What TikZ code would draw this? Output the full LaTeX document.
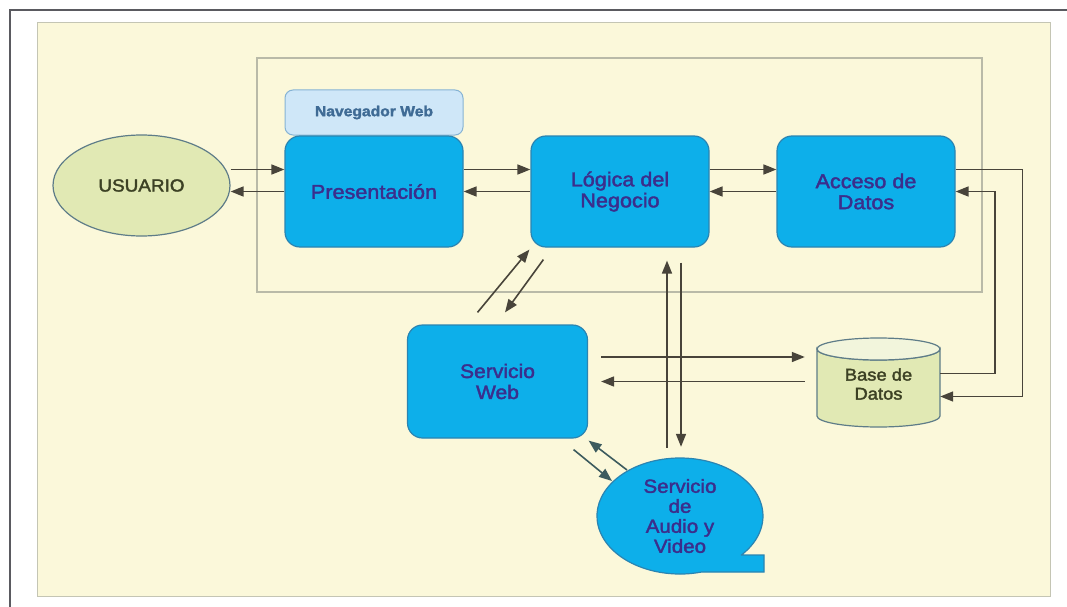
\documentclass[tikz,border=0pt]{standalone}
\usepackage{fontspec}
\setmainfont{Liberation Sans}
\newfontfamily\lblfont[FakeStretch=1.08,FakeBold=2]{Liberation Sans}
\usetikzlibrary{arrows.meta,calc,shapes.geometric}

\definecolor{framegrey}{HTML}{5A5A60}
\definecolor{paper}{HTML}{FBF8DA}
\definecolor{paperline}{HTML}{C4C5B4}
\definecolor{innerline}{HTML}{B9BAA8}
\definecolor{tierblue}{HTML}{0DAFEA}
\definecolor{tierline}{HTML}{2A84B2}
\definecolor{tiertext}{HTML}{3B2E8C}
\definecolor{navfill}{HTML}{CFE7F8}
\definecolor{navline}{HTML}{86B3D4}
\definecolor{navtext}{HTML}{3F6B95}
\definecolor{olivefill}{HTML}{E1E9B4}
\definecolor{olivetop}{HTML}{F2F5DC}
\definecolor{olivetext}{HTML}{3C4124}
\definecolor{rimline}{HTML}{5E7C88}
\definecolor{arrowgrey}{HTML}{48443A}
\definecolor{arrowteal}{HTML}{3C5B5E}

\begin{document}
\begin{tikzpicture}[x=1pt,y=-1pt,
  tier/.style={draw=tierline, line width=1.2pt, fill=tierblue, rounded corners=15pt,
    minimum width=178pt, minimum height=111pt, inner sep=0pt, align=center,
    text=tiertext, font=\lblfont\fontsize{20}{21}\selectfont},
  navbox/.style={draw=navline, line width=1pt, fill=navfill, rounded corners=8pt,
    minimum width=178pt, minimum height=45pt, inner sep=0pt,
    text=navtext, font=\lblfont\bfseries\fontsize{14.5}{16}\selectfont},
  userbox/.style={ellipse, draw=rimline, line width=1.2pt, fill=olivefill,
    minimum width=177pt, minimum height=101pt, inner sep=0pt,
    text=olivetext, font=\lblfont\fontsize{17.5}{19}\selectfont},
  arr/.style={draw=arrowgrey, line width=1.6pt, -{Triangle[length=13pt,width=10pt]}},
  arrt/.style={draw=arrowteal, line width=1.6pt, -{Triangle[length=13pt,width=10pt]}},
]
\useasboundingbox (0,0) rectangle (1067,607);
\fill[white] (0,0) rectangle (1067,607);

% page frame and coloured sheet
\draw[framegrey, line width=1.6pt] (10,607) -- (10,10) -- (1067,10);
\filldraw[fill=paper, draw=paperline, line width=1pt] (37,23) rectangle (1050,596);
% boundary of the web application tiers
\draw[innerline, line width=1.2pt] (257,58) rectangle (982,292);

% tiers
\node[navbox] (nav) at (374,112.5) {Navegador Web};
\node[tier] (pres) at (374,191.5) {Presentación};
\node[tier] (lg) at (620,191.5) {Lógica del\\Negocio};
\node[tier] (acc) at (866,191.5) {Acceso de\\Datos};
\node[userbox] (usuario) at (141.5,185.5) {USUARIO};
\node[tier, minimum width=180pt, minimum height=113pt, font=\lblfont\fontsize{19.5}{21}\selectfont]
  (sw) at (497.5,381.5) {Servicio\\Web};

% database cylinder
\filldraw[fill=olivefill, draw=rimline, line width=1.2pt]
  (817,349) -- (817,416) arc[start angle=180, end angle=0, x radius=61.5, y radius=11]
  -- (940,349) arc[start angle=0, end angle=180, x radius=61.5, y radius=11] -- cycle;
\filldraw[fill=olivetop, draw=rimline, line width=1.2pt]
  (878.5,349) ellipse[x radius=61.5, y radius=11];
\node[minimum width=123pt, minimum height=89pt, inner sep=0pt, align=center,
  text=olivetext, font=\lblfont\fontsize{17}{19}\selectfont]
  (db) at (878.5,384) {Base de\\Datos};

% audio/video service bubble
\filldraw[fill=tierblue, draw=tierline, line width=1.2pt]
  (741.5,555) -- (764,555) -- (764,572) -- (701.6,572)
  arc[start angle=74.9, end angle=402.2, x radius=83, y radius=58] -- cycle;
\node[ellipse, minimum width=166pt, minimum height=116pt, inner sep=0pt, align=center,
  text=tiertext, font=\lblfont\fontsize{19}{20}\selectfont]
  (av) at (680,516) {Servicio\\de\\Audio y\\Video};

% user <-> presentation
\coordinate (uA) at ([yshift=22pt]pres.west);
\draw[arr] (usuario.east |- uA) -- (uA);
\draw[arr] (pres.west) -- (pres.west -| usuario.east);
% presentation <-> business logic
\draw[arr] ([yshift=22pt]pres.east) -- ([yshift=22pt]lg.west);
\draw[arr] (lg.west) -- (pres.east);
% business logic <-> data access
\draw[arr] ([yshift=22pt]lg.east) -- ([yshift=22pt]acc.west);
\draw[arr] (acc.west) -- (lg.east);
% data access <-> database
\draw[arr] ([yshift=22pt]acc.east) -- ++(67,0) |- ([yshift=-12.5pt]db.east);
\draw[arr] ([yshift=10.5pt]db.east) -- ++(55,0) |- (acc.east);
% web service <-> database
\coordinate (swT) at ([yshift=24.5pt]sw.east);
\draw[arr, shorten <=13pt, shorten >=12pt] (swT) -- (swT -| db.west);
\draw[arr, shorten <=12pt, shorten >=13pt] (sw.east -| db.west) -- (sw.east);
% web service <-> business logic
\draw[arr] ([xshift=-20pt,yshift=12pt]sw.north) -- ([xshift=-1pt,yshift=-2pt]lg.south west);
\draw[arr] ([xshift=13pt,yshift=-12pt]lg.south west) -- ([xshift=7.5pt,yshift=12pt]sw.north);
% audio/video <-> business logic
\draw[arr] ([xshift=-13pt,yshift=10pt]av.north) -- ([xshift=47pt,yshift=-13pt]lg.south);
\draw[arr] ([xshift=61pt,yshift=-15pt]lg.south) -- ([xshift=1pt,yshift=11pt]av.north);
% web service <-> audio/video
\draw[arrt] ([xshift=-14.5pt,yshift=-11pt]sw.south east) -- ([xshift=-68pt,yshift=35pt]av.center);
\draw[arrt] ([xshift=-53pt,yshift=46pt]av.center) -- ([xshift=0.5pt,yshift=-2pt]sw.south east);
\end{tikzpicture}
\end{document}
